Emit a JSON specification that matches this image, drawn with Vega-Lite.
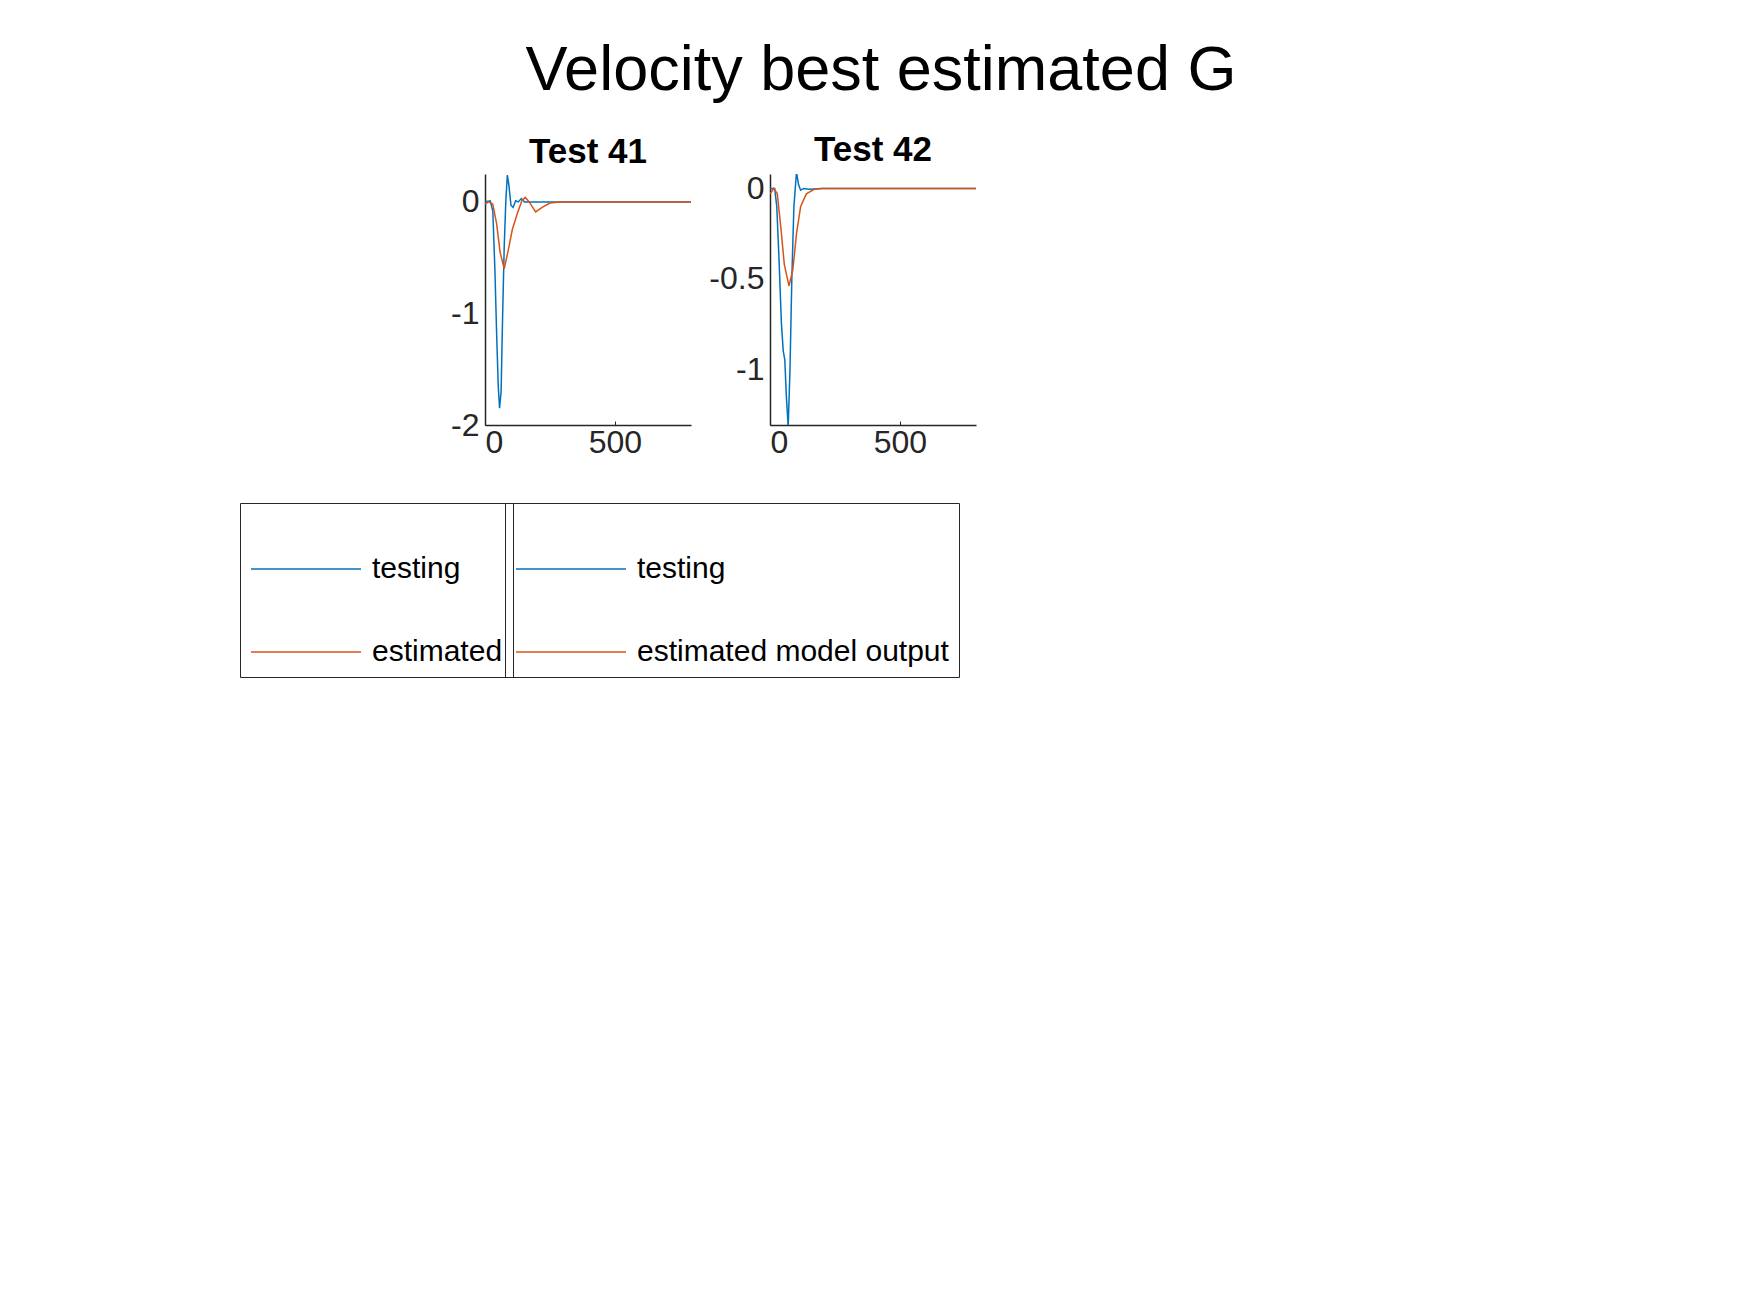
{
  "$schema": "https://vega.github.io/schema/vega-lite/v6.json",
  "background": "white",
  "bounds": "flush",
  "padding": {"left": 239, "top": 40, "right": 10, "bottom": 10},
  "title": {"text": "Velocity best estimated G", "fontSize": 63, "font": "Liberation Sans", "fontWeight": "normal", "color": "#000", "anchor": "middle", "frame": "group", "offset": 30, "dx": 396},
  "datasets": {
    "t41": [
      {"x": 0, "v": 0.0, "s": "testing"}, {"x": 20, "v": 0.01, "s": "testing"}, {"x": 30, "v": -0.08, "s": "testing"},
      {"x": 38, "v": -0.6, "s": "testing"}, {"x": 45, "v": -1.2, "s": "testing"}, {"x": 51, "v": -1.65, "s": "testing"},
      {"x": 56, "v": -1.85, "s": "testing"}, {"x": 62, "v": -1.7, "s": "testing"}, {"x": 68, "v": -1.0, "s": "testing"},
      {"x": 74, "v": -0.4, "s": "testing"}, {"x": 80, "v": 0.0, "s": "testing"}, {"x": 86, "v": 0.24, "s": "testing"},
      {"x": 92, "v": 0.15, "s": "testing"}, {"x": 100, "v": -0.03, "s": "testing"}, {"x": 108, "v": -0.05, "s": "testing"},
      {"x": 118, "v": 0.01, "s": "testing"}, {"x": 128, "v": 0.0, "s": "testing"}, {"x": 140, "v": 0.03, "s": "testing"},
      {"x": 152, "v": 0.0, "s": "testing"}, {"x": 170, "v": 0.0, "s": "testing"}, {"x": 800, "v": 0.0, "s": "testing"},
      {"x": 0, "v": -0.02, "s": "estimated"}, {"x": 15, "v": 0.0, "s": "estimated"}, {"x": 30, "v": -0.02, "s": "estimated"},
      {"x": 45, "v": -0.2, "s": "estimated"}, {"x": 58, "v": -0.45, "s": "estimated"}, {"x": 74, "v": -0.6, "s": "estimated"},
      {"x": 88, "v": -0.45, "s": "estimated"}, {"x": 105, "v": -0.25, "s": "estimated"}, {"x": 125, "v": -0.1, "s": "estimated"},
      {"x": 142, "v": 0.01, "s": "estimated"}, {"x": 155, "v": 0.04, "s": "estimated"}, {"x": 170, "v": 0.0, "s": "estimated"},
      {"x": 195, "v": -0.09, "s": "estimated"}, {"x": 220, "v": -0.05, "s": "estimated"}, {"x": 250, "v": -0.01, "s": "estimated"},
      {"x": 290, "v": 0.0, "s": "estimated"}, {"x": 800, "v": 0.0, "s": "estimated"}
    ],
    "t42": [
      {"x": 0, "v": 0.0, "s": "testing"}, {"x": 18, "v": 0.0, "s": "testing"}, {"x": 26, "v": -0.1, "s": "testing"},
      {"x": 35, "v": -0.4, "s": "testing"}, {"x": 44, "v": -0.75, "s": "testing"}, {"x": 51, "v": -0.9, "s": "testing"},
      {"x": 57, "v": -0.95, "s": "testing"}, {"x": 63, "v": -1.15, "s": "testing"}, {"x": 70, "v": -1.32, "s": "testing"},
      {"x": 77, "v": -1.0, "s": "testing"}, {"x": 84, "v": -0.5, "s": "testing"}, {"x": 92, "v": -0.1, "s": "testing"},
      {"x": 102, "v": 0.09, "s": "testing"}, {"x": 110, "v": 0.02, "s": "testing"}, {"x": 118, "v": -0.01, "s": "testing"},
      {"x": 130, "v": 0.0, "s": "testing"}, {"x": 150, "v": -0.005, "s": "testing"}, {"x": 200, "v": 0.0, "s": "testing"},
      {"x": 800, "v": 0.0, "s": "testing"},
      {"x": 0, "v": -0.03, "s": "estimated model output"}, {"x": 15, "v": 0.0, "s": "estimated model output"}, {"x": 28, "v": -0.03, "s": "estimated model output"},
      {"x": 42, "v": -0.22, "s": "estimated model output"}, {"x": 55, "v": -0.42, "s": "estimated model output"}, {"x": 73, "v": -0.54, "s": "estimated model output"},
      {"x": 88, "v": -0.45, "s": "estimated model output"}, {"x": 102, "v": -0.25, "s": "estimated model output"}, {"x": 118, "v": -0.1, "s": "estimated model output"},
      {"x": 140, "v": -0.03, "s": "estimated model output"}, {"x": 170, "v": -0.005, "s": "estimated model output"}, {"x": 200, "v": 0.0, "s": "estimated model output"},
      {"x": 800, "v": 0.0, "s": "estimated model output"}
    ]
  },
  "hconcat": [
    {
      "width": 206, "height": 251,
      "title": {"text": "Test 41", "fontSize": 35, "fontWeight": "bold", "font": "Liberation Sans", "color": "#000"},
      "data": {"name": "t41"},
      "mark": {"type": "line", "strokeWidth": 1.5, "clip": true},
      "encoding": {
        "x": {"field": "x", "type": "quantitative", "scale": {"domain": [0, 793], "nice": false}, "axis": {"values": [0, 500]}},
        "y": {"field": "v", "type": "quantitative", "scale": {"domain": [-2, 0.25], "nice": false}, "axis": {"values": [-2, -1, 0]}},
        "color": {"field": "s", "type": "nominal", "scale": {"domain": ["testing", "estimated"], "range": ["#0072BD", "#D95319"]},
          "legend": {"orient": "none", "legendX": -245, "legendY": 329, "title": null}}
      }
    },
    {
      "width": 206, "height": 251,
      "title": {"text": "Test 42", "fontSize": 35, "fontWeight": "bold", "font": "Liberation Sans", "color": "#000"},
      "data": {"name": "t42"},
      "mark": {"type": "line", "strokeWidth": 1.5, "clip": true},
      "encoding": {
        "x": {"field": "x", "type": "quantitative", "scale": {"domain": [0, 793], "nice": false}, "axis": {"values": [0, 500]}},
        "y": {"field": "v", "type": "quantitative", "scale": {"domain": [-1.31, 0.08], "nice": false}, "axis": {"values": [-1, -0.5, 0]}},
        "color": {"field": "s", "type": "nominal", "scale": {"domain": ["testing", "estimated model output"], "range": ["#0072BD", "#D95319"]},
          "legend": {"orient": "none", "legendX": -265, "legendY": 329, "title": null}}
      }
    }
  ],
  "resolve": {"scale": {"color": "independent", "y": "independent"}},
  "config": {
    "concat": {"spacing": 79},
    "view": {"stroke": null},
    "axis": {"grid": false, "domainColor": "#262626", "tickColor": "#262626", "tickSize": -4, "labelFontSize": 32, "labelFont": "Liberation Sans", "labelColor": "#262626", "title": null, "domainWidth": 1.5, "labelPadding": 6, "labelExpr": "datum.value + ''"},
    "axisY": {"tickSize": 0},
    "legend": {"symbolType": "stroke", "symbolSize": 12100, "symbolStrokeWidth": 1.5, "labelFontSize": 30, "labelFont": "Liberation Sans", "labelColor": "#000", "strokeColor": "#262626", "padding": 10, "rowPadding": 12, "direction": "vertical", "labelLimit": 500, "labelOffset": 10}
  }
}
